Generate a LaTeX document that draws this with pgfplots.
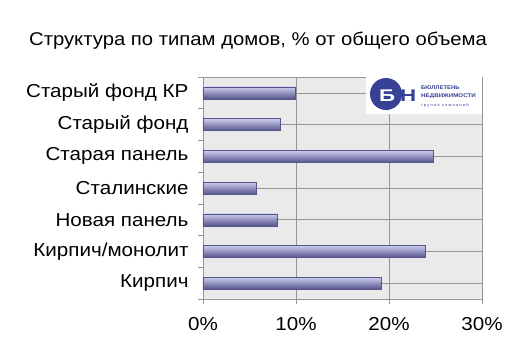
\documentclass[border=0pt]{standalone}
\usepackage{pgfplots}
\pgfplotsset{compat=1.18}
\usepackage{fontspec}
\setmainfont{Liberation Sans}[FakeStretch=1.1]
\definecolor{bartop}{RGB}{205,205,240}
\definecolor{barmid}{RGB}{145,145,210}
\definecolor{barbot}{RGB}{85,85,140}
\definecolor{gridc}{RGB}{150,150,150}
\definecolor{bgc}{RGB}{234,234,234}
\definecolor{logob}{RGB}{55,65,150}
\pgfplotsset{bb/.style={xbar, bar width=12bp, bar shift=0pt, draw=barbot, line width=0.4pt, top color=bartop, middle color=barmid, bottom color=barbot}}
\begin{document}
\begin{tikzpicture}[x=1bp,y=1bp]
\fill[white] (-203,-62) rectangle (307,299);
\node[anchor=base, font=\fontsize{18.5}{20}\selectfont] at (55,254) {Структура по типам домов, \% от общего объема};
\begin{axis}[
  scale only axis, width=279bp, height=222bp,
  xmin=0, xmax=30, ymin=-0.5, ymax=6.5,
  axis background/.style={fill=bgc},
  axis line style={gridc},
  xtick={0,10,20,30},
  xticklabel={\pgfmathprintnumber{\tick}\%},
  /pgf/number format/assume math mode=true,
  xmajorgrids, major grid style={gridc, line width=0.6pt},
  ymajorgrids,
  ytick={0,...,6},
  yticklabels={Кирпич, Кирпич/монолит, Новая панель, Сталинские, Старая панель, Старый фонд, Старый фонд КР},
  minor ytick={-0.5,0.5,...,6.5},
  y tick style={draw=none},
  minor y tick style={draw=gridc, line width=0.6pt},
  minor tick length=5bp,
  tick align=outside,
  tick pos=left,
  x tick style={draw=gridc, line width=0.6pt},
  major tick length=5bp,
  tick label style={font=\fontsize{18.8}{20}\selectfont},
  xticklabel style={yshift=-10bp},
  yticklabel style={xshift=-6bp},
  clip=false,
]
\addplot[bb] coordinates {(19.2,0)};
\addplot[bb] coordinates {(23.9,1)};
\addplot[bb] coordinates {(8.0,2)};
\addplot[bb] coordinates {(5.7,3)};
\addplot[bb] coordinates {(24.8,4)};
\addplot[bb] coordinates {(8.3,5)};
\addplot[bb] coordinates {(9.9,6)};
\end{axis}
% logo
\begin{scope}[shift={(-203,-62)}]
\fill[white] (366,247) rectangle (482,287);
\fill[logob] (386,267) circle (16);
\node[white, font=\bfseries\fontsize{17}{17}\selectfont, anchor=base west, inner sep=0pt, xscale=1.2] at (379,260) {Б};
\node[logob, font=\bfseries\fontsize{17}{17}\selectfont, anchor=base west, inner sep=0pt, xscale=1.2] at (400,260) {Н};
\node[logob, font=\bfseries\fontsize{5.4}{5.4}\selectfont, anchor=base west, inner sep=0pt] at (421,272) {БЮЛЛЕТЕНЬ};
\node[logob, font=\bfseries\fontsize{5.4}{5.4}\selectfont, anchor=base west, inner sep=0pt, xscale=1.05] at (421,263.5) {НЕДВИЖИМОСТИ};
\node[logob, font=\fontsize{3.8}{3.8}\selectfont, anchor=base west, inner sep=0pt] at (421,254.5) {г р у п п а\ \ к о м п а н и й};
\end{scope}
\end{tikzpicture}
\end{document}
